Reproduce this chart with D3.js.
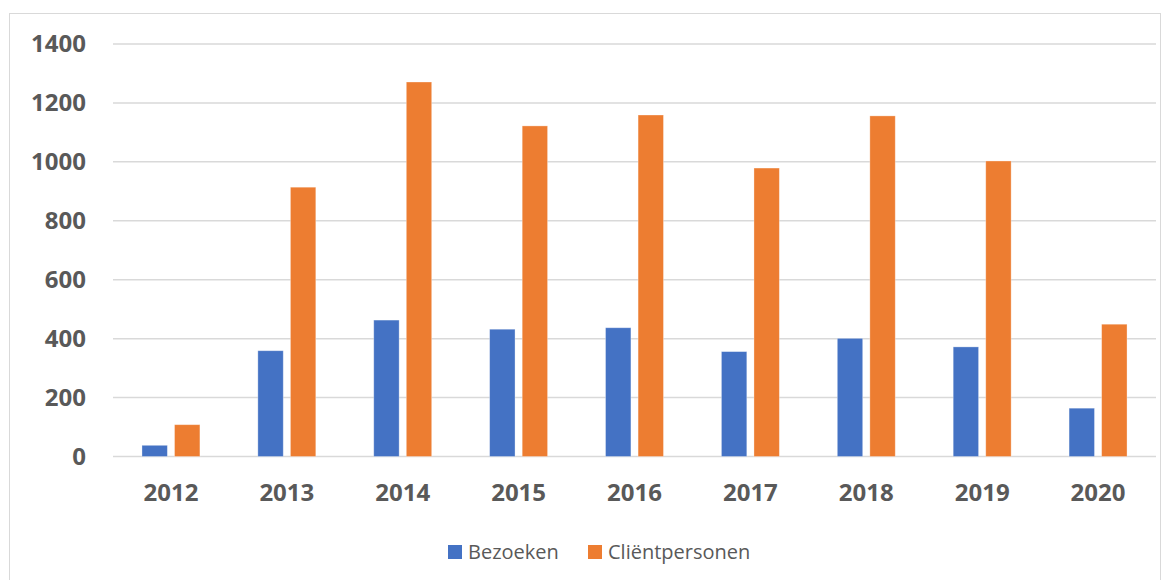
<!DOCTYPE html>
<html>
<head>
<meta charset="utf-8">
<script src="https://cdn.jsdelivr.net/npm/d3@7"></script>
<style>
  body { margin: 0; background: #fff; }
  svg { display: block; font-family: "Open Sans", "Noto Sans", sans-serif; }
</style>
</head>
<body>
<svg id="chart" width="1172" height="580"></svg>
<script>
// data
const years = ["2012", "2013", "2014", "2015", "2016", "2017", "2018", "2019", "2020"];
const bezoeken = [38, 359, 463, 432, 437, 356, 401, 372, 164];
const clientpersonen = [108, 914, 1271, 1122, 1159, 979, 1156, 1003, 449];
const seriesNames = ["Bezoeken", "Cliëntpersonen"];
const colors = ["#4472c4", "#ed7d31"];
const yTicks = [0, 200, 400, 600, 800, 1000, 1200, 1400];

const svg = d3.select("#chart");
const margin = { top: 44, right: 16, bottom: 123.5, left: 113 };
const width = 1172, height = 580;

// outer chart border
svg.append("rect")
  .attr("x", 9.5).attr("y", 13.5)
  .attr("width", 1151).attr("height", 600)
  .attr("fill", "none").attr("stroke", "#d9d9d9");

const x = d3.scaleBand()
  .domain(years)
  .range([margin.left, width - margin.right])
  .paddingInner(0.5).paddingOuter(0.25);

const x1 = d3.scaleBand()
  .domain(seriesNames)
  .range([0, x.bandwidth()])
  .paddingInner(0.22);

const y = d3.scaleLinear()
  .domain([0, 1400])
  .range([height - margin.bottom, margin.top]);

// gridlines
svg.append("g")
  .selectAll("line")
  .data(yTicks)
  .join("line")
  .attr("x1", margin.left).attr("x2", width - margin.right)
  .attr("y1", d => y(d)).attr("y2", d => y(d))
  .attr("stroke", "#d9d9d9").attr("stroke-width", 1.5);

// y labels
const yAxis = svg.append("g")
  .attr("transform", `translate(${margin.left - 27},0)`)
  .call(d3.axisLeft(y).tickValues(yTicks).tickFormat(d3.format("d")).tickSize(0).tickPadding(0));
yAxis.select(".domain").remove();
yAxis.selectAll("text")
  .attr("fill", "#595959")
  .style("font-size", "24px").style("font-weight", "bold")
  .style("font-family", "'Open Sans', sans-serif");

// bars
const rows = years.map((yr, i) => ({ year: yr, values: [bezoeken[i], clientpersonen[i]] }));
const groups = svg.append("g")
  .selectAll("g")
  .data(rows)
  .join("g")
  .attr("transform", d => `translate(${x(d.year)},0)`);

groups.selectAll("rect")
  .data(d => d.values.map((v, j) => ({ name: seriesNames[j], value: v, color: colors[j] })))
  .join("rect")
  .attr("x", d => x1(d.name))
  .attr("width", x1.bandwidth())
  .attr("y", d => y(d.value))
  .attr("height", d => y(0) - y(d.value))
  .attr("fill", d => d.color)
  .attr("stroke", "#fff").attr("stroke-opacity", 0.4).attr("stroke-width", 0.8);

// x labels
const xAxis = svg.append("g")
  .attr("transform", `translate(0,${y(0) + 27})`)
  .call(d3.axisBottom(x).tickSize(0).tickPadding(0));
xAxis.select(".domain").remove();
xAxis.selectAll("text")
  .attr("fill", "#595959")
  .style("font-size", "24px").style("font-weight", "bold")
  .style("font-family", "'Open Sans', sans-serif");

// legend
const legendX = [448, 588];
const legend = svg.append("g")
  .selectAll("g")
  .data(seriesNames)
  .join("g")
  .attr("transform", (d, i) => `translate(${legendX[i]},545)`);
legend.append("rect")
  .attr("width", 14).attr("height", 14)
  .attr("fill", (d, i) => colors[i]);
legend.append("text")
  .attr("x", 20).attr("y", 7)
  .attr("dy", "0.36em")
  .attr("fill", "#595959")
  .style("font-size", "20px")
  .text(d => d);
</script>
</body>
</html>
